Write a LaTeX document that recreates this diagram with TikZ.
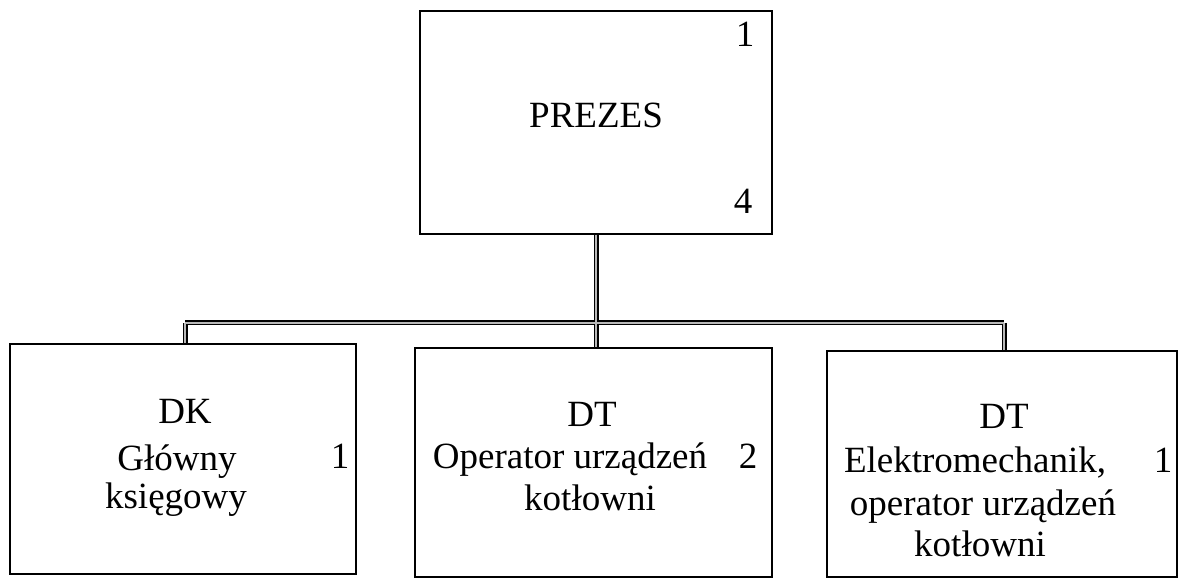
\documentclass[tikz,border=0pt]{standalone}
\usepackage{fontspec}
\setmainfont{Liberation Serif}
\begin{document}
\begin{tikzpicture}[x=1pt,y=-1pt,
  box/.style={draw=black, line width=1.3pt, inner sep=0pt},
  txt/.style={anchor=base, inner sep=0pt, font=\fontsize{37}{42}\selectfont},
  connout/.style={draw=black, line width=5pt},
  connin/.style={draw=gray!55, line width=2.6pt}]
\useasboundingbox (0,0) rectangle (1179,580);
\fill[white] (0,0) rectangle (1179,580);
% boxes
\node[box, minimum width=352pt, minimum height=223pt] (prezes) at (596,122.5) {};
\node[box, minimum width=346pt, minimum height=230pt] (b1) at (183,459) {};
\node[box, minimum width=357pt, minimum height=229pt] (b2) at (593.5,462.5) {};
\node[box, minimum width=350pt, minimum height=226pt] (b3) at (1002,464) {};
% connectors
\coordinate (bus) at (596,323);
\coordinate (busL) at (185,323);
\coordinate (busR) at (1004,323);
\foreach \s in {connout,connin}{
  \draw[\s] (prezes.south) -- (bus);
  \draw[\s] (busL) -- (busR);
  \draw[\s] (busL) -- (busL |- b1.north);
  \draw[\s] (busR) -- (busR |- b3.north);
  \draw[\s] (bus) -- (bus |- b2.north);
}
% texts
\node[txt] (tp) at (596,128) {PREZES};
\node[txt] (tp1) at (745,47) {1};
\node[txt] (tp4) at (743,214) {4};
\node[txt] (t1a) at (185,423) {DK};
\node[txt] (t1b) at (177,470) {Główny};
\node[txt] (t1c) at (176,508) {księgowy};
\node[txt] (t1n) at (340,468) {1};
\node[txt] (t2a) at (592,426) {DT};
\node[txt] (t2b) at (570,468) {Operator urządzeń};
\node[txt] (t2c) at (590,510) {kotłowni};
\node[txt] (t2n) at (748,468) {2};
\node[txt] (t3a) at (1004,428) {DT};
\node[txt] (t3b) at (975,472) {Elektromechanik,};
\node[txt] (t3c) at (983,515) {operator urządzeń};
\node[txt] (t3d) at (980,556) {kotłowni};
\node[txt] (t3n) at (1163,472) {1};
\end{tikzpicture}
\end{document}
